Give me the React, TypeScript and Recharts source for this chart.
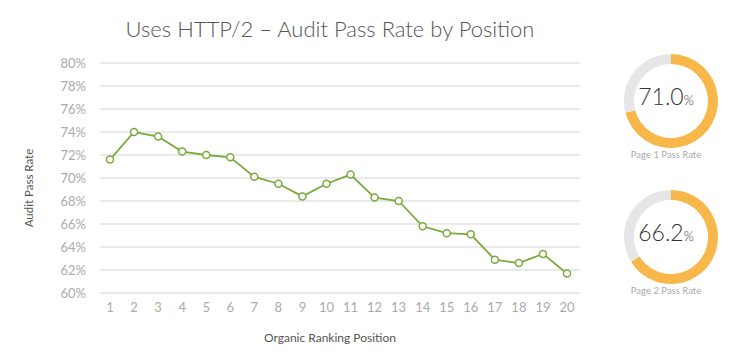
import { LineChart, Line, XAxis, YAxis, CartesianGrid, PieChart, Pie, Cell } from 'recharts';

const positions = ['1', '2', '3', '4', '5', '6', '7', '8', '9', '10', '11', '12', '13', '14', '15', '16', '17', '18', '19', '20'];
const passRates = [71.6, 74.0, 73.6, 72.3, 72.0, 71.8, 70.1, 69.5, 68.4, 69.5, 70.3, 68.3, 68.0, 65.8, 65.2, 65.1, 62.9, 62.6, 63.4, 61.7];
const yTicks = [60, 62, 64, 66, 68, 70, 72, 74, 76, 78, 80];

const pageLabels = ['Page 1 Pass Rate', 'Page 2 Pass Rate'];
const pageRates = [71.0, 66.2];

const data = positions.map((p, i) => ({ position: p, rate: passRates[i] }));

const font = 'Lato, "Open Sans", sans-serif';

const Donut = ({ value, label, top }: { value: number; label: string; top: number }) => {
  const slices = [
    { name: 'pass', value },
    { name: 'rest', value: 100 - value },
  ];
  const [whole, dec] = value.toFixed(1).split('.');
  return (
    <div style={{ position: 'absolute', left: 606, top, width: 120, height: 140 }}>
      <PieChart width={120} height={120}>
        <Pie
          data={slices}
          dataKey="value"
          cx={60}
          cy={60}
          innerRadius={37}
          outerRadius={47}
          startAngle={90}
          endAngle={-270}
          stroke="none"
          isAnimationActive={false}
        >
          <Cell fill="#F8B74B" />
          <Cell fill="#E6E6E6" />
        </Pie>
      </PieChart>
      <div
        style={{
          position: 'absolute', left: 0, top: 46, width: 120, textAlign: 'center',
          fontFamily: font, fontWeight: 300, color: '#333', fontSize: 23, lineHeight: '28px',
        }}
      >
        {whole}.{dec}<span style={{ fontSize: 13 }}>%</span>
      </div>
      <div
        style={{
          position: 'absolute', left: 0, top: 113, width: 120, textAlign: 'center',
          fontFamily: font, color: '#aaa', fontSize: 9.5,
        }}
      >
        {label}
      </div>
    </div>
  );
};

const App = () => {
  return (
    <div style={{ position: 'absolute', left: 0, top: 0, width: 750, height: 357, background: '#fff', overflow: 'hidden' }}>
      <div
        style={{
          position: 'absolute', left: 0, top: 15, width: 660, textAlign: 'center',
          fontFamily: font, fontWeight: 300, fontSize: 22, color: '#555',
        }}
      >
        Uses HTTP/2 – Audit Pass Rate by Position
      </div>
      <div
        style={{
          position: 'absolute', left: 28, top: 188, transform: 'translate(-50%, -50%) rotate(-90deg)',
          fontFamily: font, fontSize: 11.5, color: '#555', whiteSpace: 'nowrap',
        }}
      >
        Audit Pass Rate
      </div>
      <div
        style={{
          position: 'absolute', left: 100, top: 330, width: 460, textAlign: 'center',
          fontFamily: font, fontSize: 12, color: '#555',
        }}
      >
        Organic Ranking Position
      </div>
      <div style={{ position: 'absolute', left: 0, top: 0 }}>
        <LineChart width={600} height={357} data={data} margin={{ top: 63, right: 20, bottom: 0, left: 0 }}>
          <CartesianGrid vertical={false} stroke="#E3E3E3" strokeWidth={1.5} />
          <XAxis
            dataKey="position"
            axisLine={false}
            tickLine={false}
            tickSize={0}
            tickMargin={10}
            height={64}
            padding={{ left: 10, right: 13 }}
            interval={0}
            tick={{ fill: '#aaa', fontSize: 13, fontFamily: font }}
          />
          <YAxis
            domain={[60, 80]}
            ticks={yTicks}
            tickFormatter={(v: number) => `${v}%`}
            axisLine={false}
            tickLine={false}
            tickSize={0}
            tickMargin={14}
            width={100}
            tick={{ fill: '#aaa', fontSize: 13, fontFamily: font }}
          />
          <Line
            type="linear"
            dataKey="rate"
            stroke="#7BAA3E"
            strokeWidth={1.8}
            dot={{ r: 3.5, fill: '#fff', stroke: '#7BAA3E', strokeWidth: 1.5 }}
            isAnimationActive={false}
          />
        </LineChart>
      </div>
      {pageRates.map((v, i) => (
        <Donut key={pageLabels[i]} value={v} label={pageLabels[i]} top={36 + i * 136} />
      ))}
    </div>
  );
};

export default App;
